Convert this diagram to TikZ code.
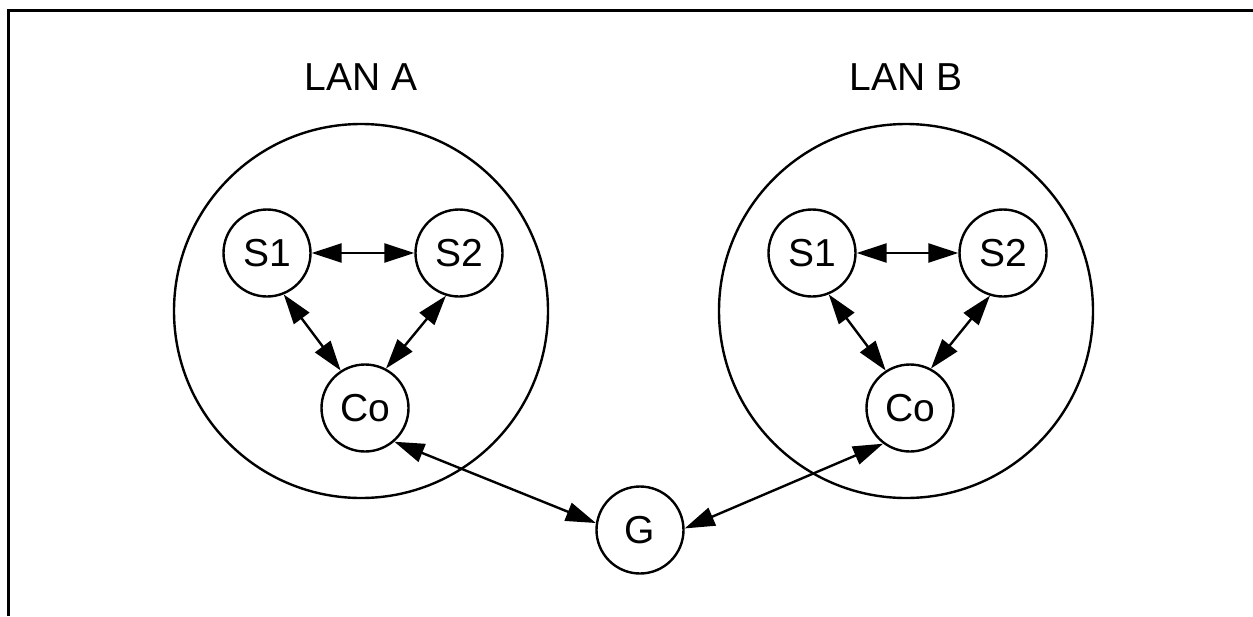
\documentclass[tikz,border=0pt]{standalone}
\usepackage{fontspec}
\setmainfont{Liberation Sans}
\usetikzlibrary{arrows.meta}
\begin{document}
\begin{tikzpicture}[x=1pt,y=-1pt,
  every node/.style={font=\fontsize{39}{47}\selectfont},
  host/.style={draw,circle,line width=2.4pt,minimum size=87pt,inner sep=0pt},
  lan/.style={draw,circle,line width=2.4pt,minimum size=374pt,inner sep=0pt},
  link/.style={line width=2.4pt,{Triangle[length=30pt,width=19pt]}-{Triangle[length=30pt,width=19pt]}},
  frame/.style={line width=3pt}]
\useasboundingbox (0,0) rectangle (1253,616);
% frame edges
\coordinate (fb) at (8,616);
\coordinate (fc) at (8,10);
\coordinate (fr) at (1253,10);
\draw[frame] (fb) -- (fc) -- (fr);

% LAN A
\node[lan] (lanA) at (361,311) {};
\node[anchor=base] (labA) at (361,90) {LAN A};
\node[host] (s1a) at (267,253) {S1};
\node[host] (s2a) at (459,253) {S2};
\node[host] (coa) at (365,408) {Co};

% LAN B
\node[lan] (lanB) at (906,311) {};
\node[anchor=base] (labB) at (906,90) {LAN B};
\node[host] (s1b) at (812,253) {S1};
\node[host] (s2b) at (1003,253) {S2};
\node[host] (cob) at (910,408) {Co};

% gateway
\node[host] (g) at (640,530) {G};

% links inside LAN A
\draw[link] (s1a.east) -- (s2a.west);
\draw[link] (s1a.-68) -- (coa.123);
\draw[link] (s2a.-107) -- (coa.62);
% links inside LAN B
\draw[link] (s1b.east) -- (s2b.west);
\draw[link] (s1b.-68) -- (cob.123);
\draw[link] (s2b.-107) -- (cob.62);
% gateway links
\draw[link] (coa.-49) -- (g.171);
\draw[link] (g.2) -- (cob.-127);
\end{tikzpicture}
\end{document}
